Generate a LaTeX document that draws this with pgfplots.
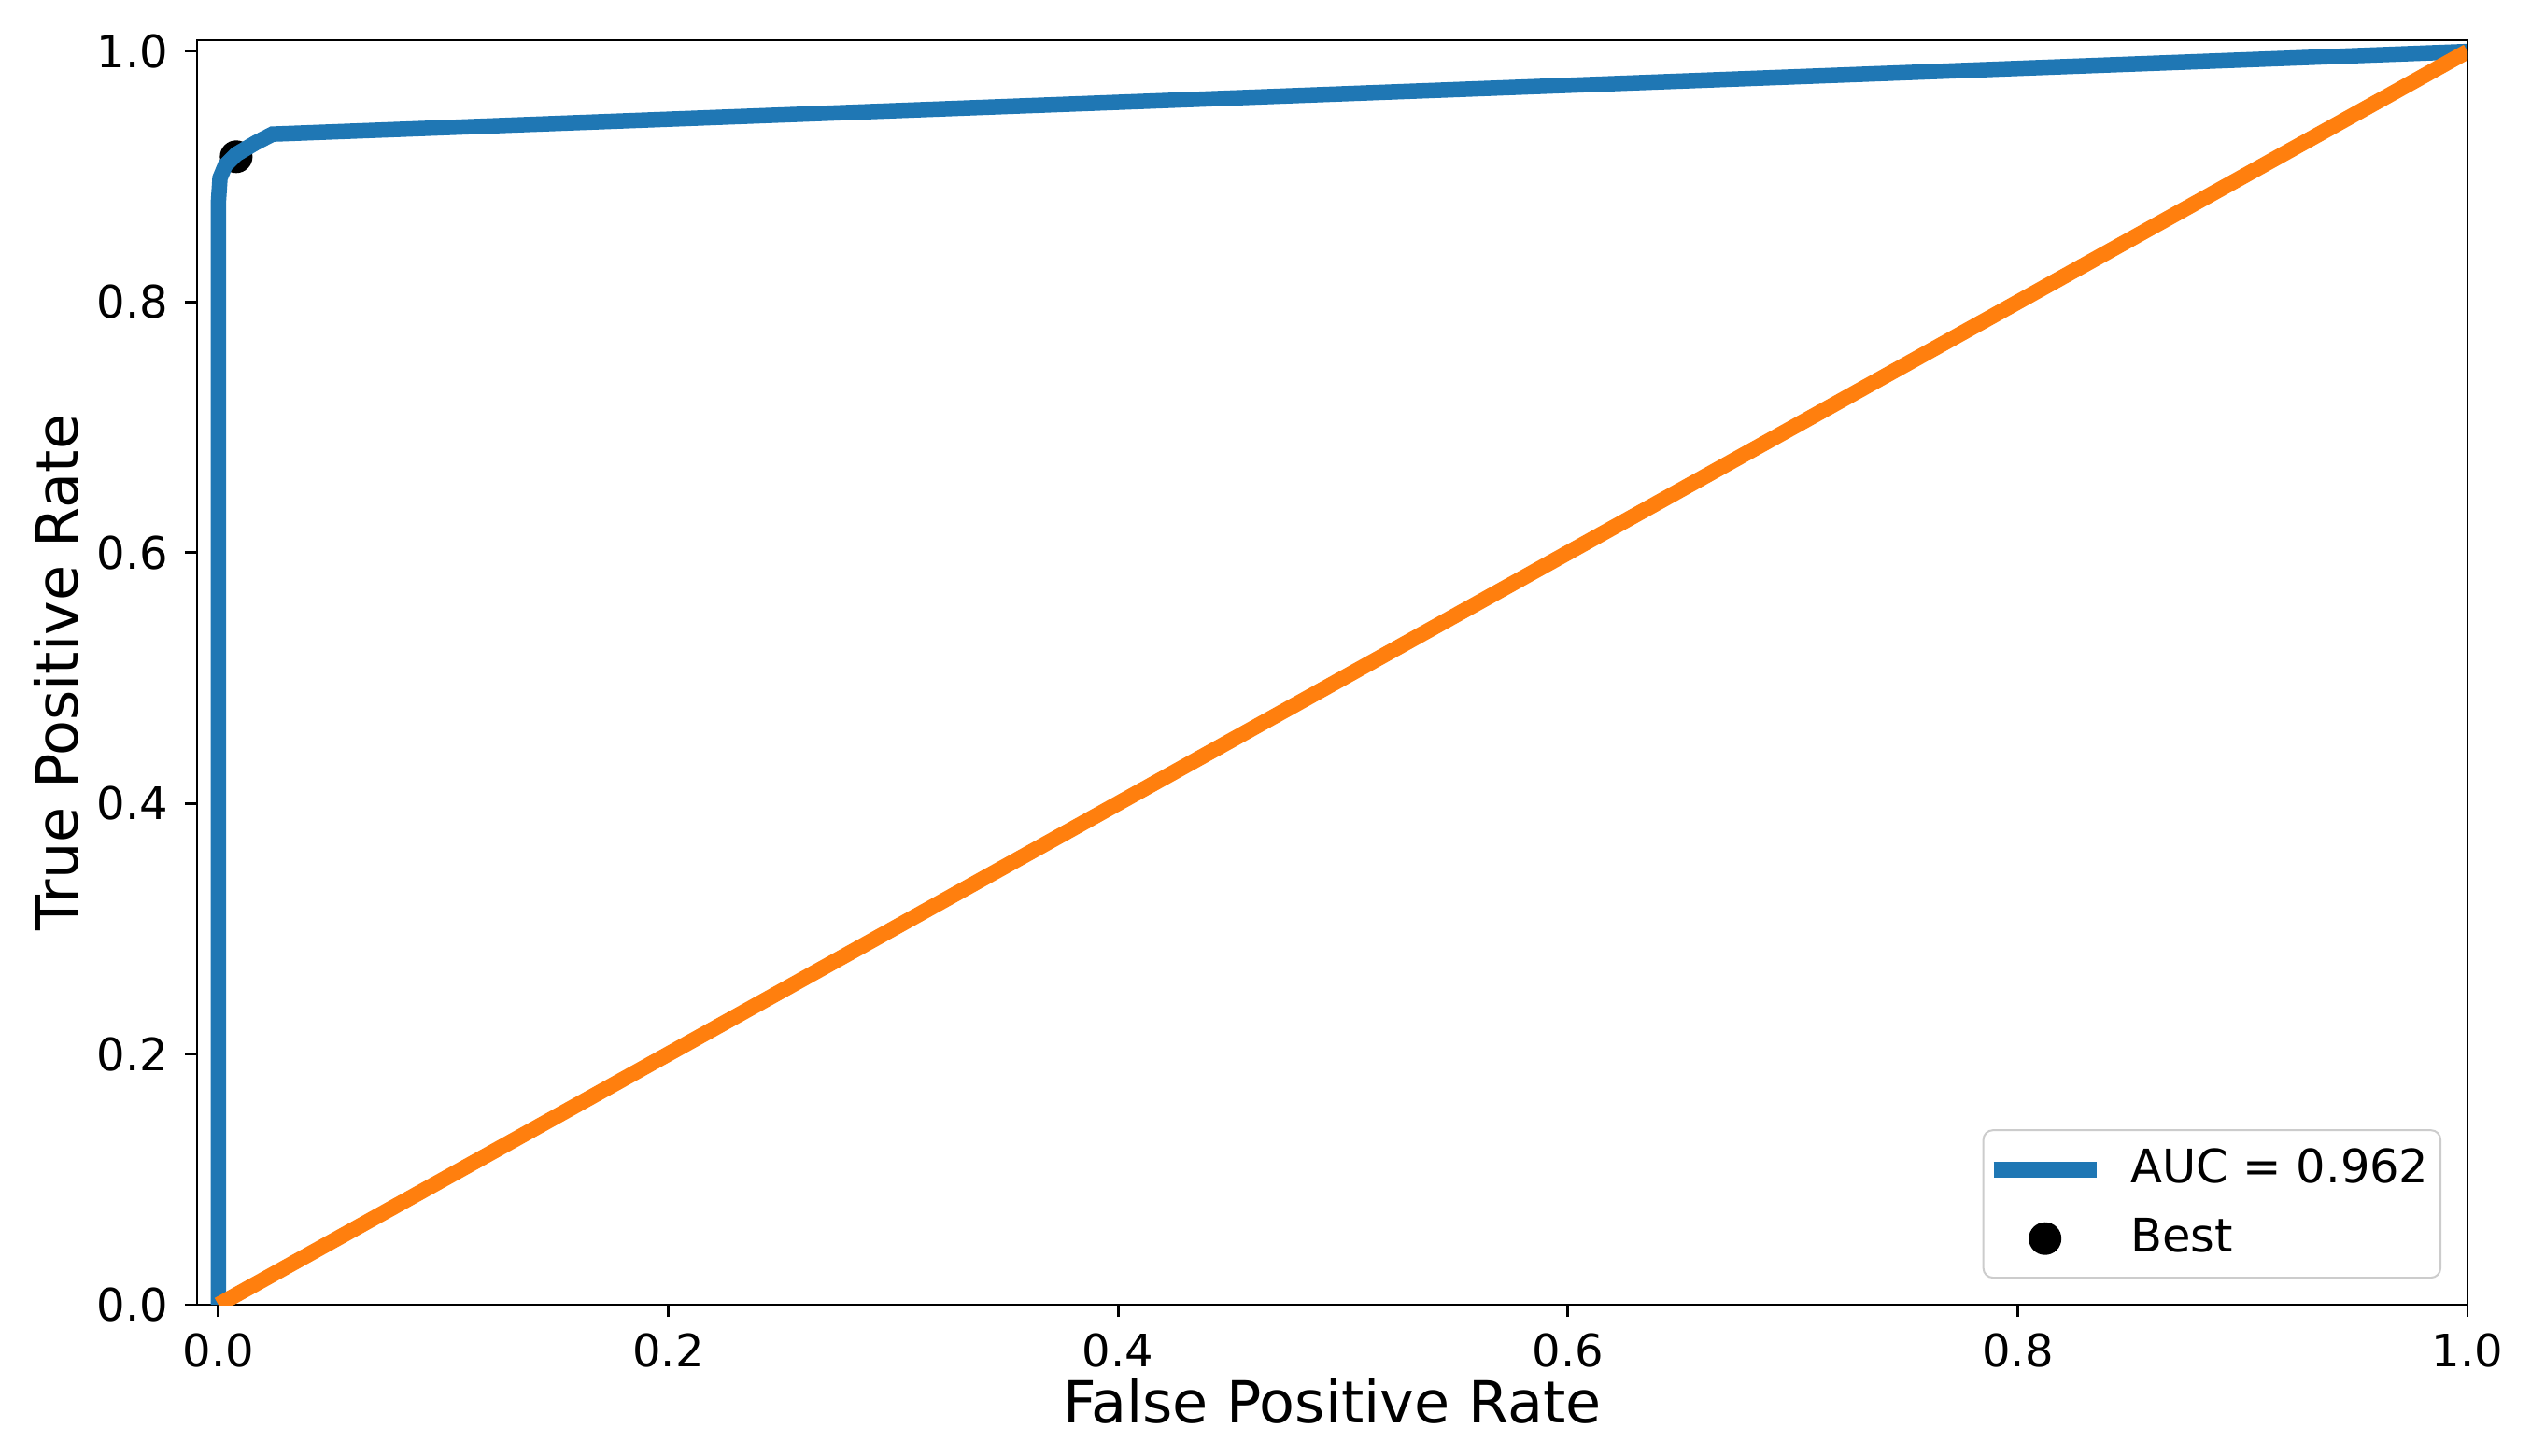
\documentclass[border=0pt]{standalone}
\usepackage{pgfplots}
\pgfplotsset{compat=1.18}
\usepackage{fontspec}
\setmainfont{DejaVu Sans}
\usetikzlibrary{calc}
\definecolor{mblue}{HTML}{1F77B4}
\definecolor{morange}{HTML}{FF7F0E}
\begin{document}
\begin{tikzpicture}
\begin{axis}[
  scale only axis,
  width=486.2pt, height=270.8pt,
  xmin=-0.0095, xmax=1.0, ymin=0, ymax=1.009,
  clip mode=individual,
  xtick={0,0.2,0.4,0.6,0.8,1.0},
  ytick={0,0.2,0.4,0.6,0.8,1.0},
  xticklabel style={/pgf/number format/.cd,fixed,fixed zerofill,precision=1},
  yticklabel style={/pgf/number format/.cd,fixed,fixed zerofill,precision=1},
  /pgf/number format/assume math mode=true,
  tick label style={font=\fontsize{9.6}{11}\selectfont},
  tick align=outside,
  major tick length=2.6pt,
  tick style={black, line width=0.55pt},
  axis line style={line width=0.55pt},
  xtick pos=bottom, ytick pos=left,
  xlabel={False Positive Rate},
  ylabel={True Positive Rate},
  every axis x label/.style={at={($(axis description cs:0.5,0)+(0,-20.6pt)$)}, anchor=center, font=\fontsize{12.4}{15}\selectfont},
  every axis y label/.style={at={($(axis description cs:0,0.5)+(-30.2pt,0)$)}, anchor=center, rotate=90, font=\fontsize{12.4}{15}\selectfont},
  legend style={at={(axis description cs:1,0)}, anchor=south east, xshift=-5.6pt, yshift=5.6pt,
    draw=black!20, rounded corners=2pt, fill=white, fill opacity=0.8, text opacity=1,
    font=\fontsize{9.9}{12}\selectfont, inner xsep=0.5pt, inner ysep=2pt, row sep=2pt,
    /tikz/every odd column/.append style={column sep=3.6pt}},
  legend cell align=left,
]
\addlegendimage{legend image code/.code={\draw[mblue, line width=3.4pt, draw opacity=1] (0pt,0pt) -- (22pt,0pt);}}
\addlegendentry{AUC = 0.962}
\addlegendimage{legend image code/.code={\fill[black, fill opacity=1] (11pt,0pt) circle (3.3pt);}}
\addlegendentry{Best}
\addplot[only marks, mark=*, mark size=3.3pt, black, forget plot] coordinates {(0.0079,0.916)};
\addplot[mblue, line width=3.3pt, forget plot] coordinates {
(0,0) (0,0.88) (0.0007,0.899) (0.003,0.909) (0.008,0.918) (0.0165,0.927) (0.024,0.934) (1,1)};
\addplot[morange, line width=3.3pt, forget plot] coordinates {(0,0) (1,1)};
\end{axis}
\path[use as bounding box] ($(current axis.south west)+(-42.2pt,-32.2pt)$) rectangle ($(current axis.north east)+(13.6pt,8.6pt)$);
\end{tikzpicture}
\end{document}
